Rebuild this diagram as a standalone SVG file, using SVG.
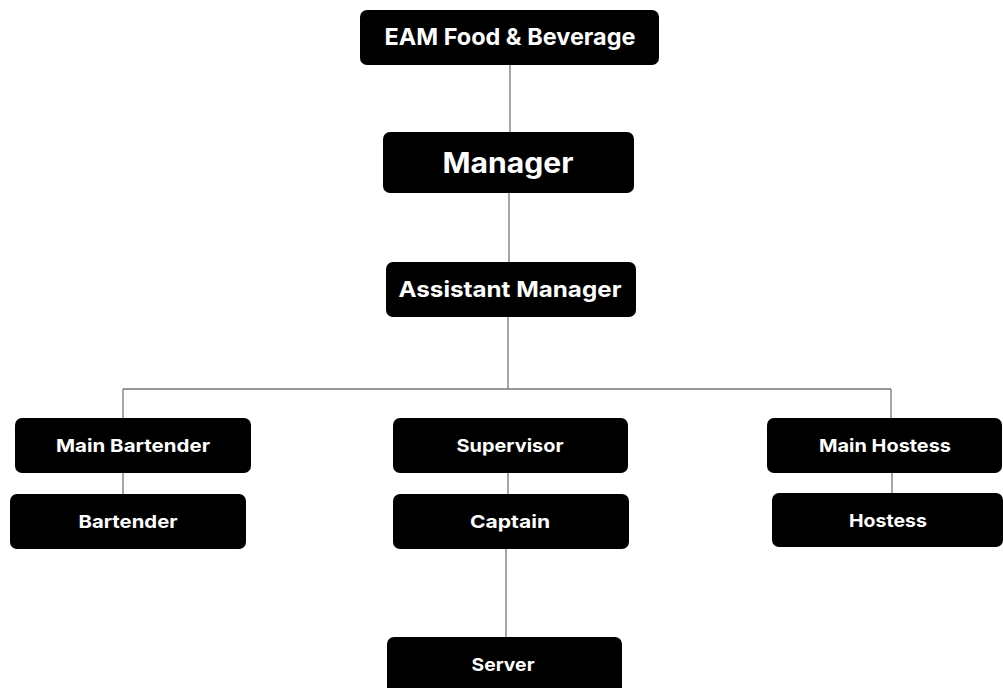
<svg xmlns="http://www.w3.org/2000/svg" width="1003" height="688" viewBox="0 0 1003 688">
<style>
.box{fill:#000;}
.t{fill:#fff;font-family:Inter,"Open Sans","DejaVu Sans",sans-serif;font-weight:700;text-anchor:middle;dominant-baseline:central;}
.s{font-size:18px;}
.c{stroke:#777;stroke-width:1.3;fill:none;}
</style>
<rect width="1003" height="688" fill="#fff"/>
<g id="connectors">
<path class="c" d="M510 65V132M509 193V262M508 317V389M123 389H891M123 389V418M891 389V418M123 473V494M508 473V494M506 549V637M892 473V493"/>
</g>
<g id="eam"><rect class="box" x="360" y="10" width="299" height="55" rx="7"/><text class="t" x="510" y="36" font-size="23.5" textLength="251" lengthAdjust="spacingAndGlyphs">EAM Food &amp; Beverage</text></g>
<g id="manager"><rect class="box" x="383" y="132" width="251" height="61" rx="7"/><text class="t" x="508" y="163" font-size="28" textLength="131" lengthAdjust="spacingAndGlyphs">Manager</text></g>
<g id="assistant-manager"><rect class="box" x="386" y="262" width="250" height="55" rx="7"/><text class="t" x="510" y="289" font-size="22" textLength="223" lengthAdjust="spacingAndGlyphs">Assistant Manager</text></g>
<g id="main-bartender"><rect class="box" x="15" y="418" width="236" height="55" rx="7"/><text class="t s" x="133" y="445.5" textLength="154" lengthAdjust="spacingAndGlyphs">Main Bartender</text></g>
<g id="bartender"><rect class="box" x="10" y="494" width="236" height="55" rx="7"/><text class="t s" x="128" y="521" textLength="99" lengthAdjust="spacingAndGlyphs">Bartender</text></g>
<g id="supervisor"><rect class="box" x="393" y="418" width="235" height="55" rx="7"/><text class="t s" x="510" y="445.5" textLength="107" lengthAdjust="spacingAndGlyphs">Supervisor</text></g>
<g id="captain"><rect class="box" x="393" y="494" width="236" height="55" rx="7"/><text class="t s" x="510" y="521" textLength="80" lengthAdjust="spacingAndGlyphs">Captain</text></g>
<g id="server"><rect class="box" x="387" y="637" width="235" height="60" rx="7"/><text class="t s" x="503" y="664" textLength="63" lengthAdjust="spacingAndGlyphs">Server</text></g>
<g id="main-hostess"><rect class="box" x="767" y="418" width="235" height="55" rx="7"/><text class="t s" x="885" y="445.5" textLength="132" lengthAdjust="spacingAndGlyphs">Main Hostess</text></g>
<g id="hostess"><rect class="box" x="772" y="493" width="231" height="54" rx="7"/><text class="t s" x="888" y="520" textLength="78" lengthAdjust="spacingAndGlyphs">Hostess</text></g>
</svg>
